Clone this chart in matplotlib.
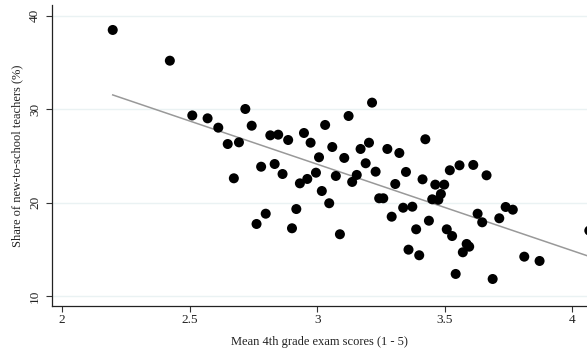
import numpy as np
import matplotlib
matplotlib.use("Agg")
import matplotlib.pyplot as plt

plt.rcParams['font.family'] = ['Liberation Serif', 'DejaVu Serif']

# Mean 4th grade exam score per school group and share of new-to-school teachers (%)
exam_score = [
    2.198, 2.422, 2.510, 2.570, 2.612, 2.718, 2.743, 2.649, 2.693, 2.816,
    2.847, 2.886, 2.780, 2.833, 2.864, 2.673, 2.948, 3.031, 2.974, 3.007,
    2.995, 2.961, 2.932, 3.018, 3.215, 3.123, 3.424, 3.059, 3.170, 3.203,
    3.275, 3.322, 3.106, 3.190, 3.229, 3.348, 3.413, 3.073, 3.155, 3.137,
    3.306, 3.243, 3.259, 3.047, 3.520, 3.558, 3.612, 3.664, 3.463, 3.498,
    3.485, 3.451, 3.475, 3.438, 3.508, 3.529, 3.586, 3.596, 3.571, 3.543,
    3.688, 3.629, 3.647, 3.714, 3.739, 3.767, 3.812, 3.872, 4.067, 3.089,
    3.292, 3.337, 3.373, 3.388, 3.358, 3.400, 2.798, 2.762, 2.918, 2.901,
]
new_teacher_share = [
    38.48, 35.19, 29.33, 29.02, 28.02, 30.02, 28.23, 26.27, 26.45, 27.20,
    27.27, 26.70, 23.84, 24.13, 23.06, 22.60, 27.45, 28.31, 26.41, 24.85,
    23.20, 22.53, 22.06, 21.24, 30.70, 29.27, 26.78, 25.95, 25.74, 26.41,
    25.74, 25.31, 24.78, 24.21, 23.31, 23.28, 22.49, 22.85, 22.96, 22.21,
    21.99, 20.46, 20.46, 19.93, 23.46, 23.99, 24.03, 22.92, 21.92, 21.92,
    20.92, 20.35, 20.30, 18.06, 17.14, 16.42, 15.57, 15.28, 14.68, 12.36,
    11.82, 18.81, 17.89, 18.32, 19.53, 19.24, 14.21, 13.75, 17.00, 16.61,
    18.49, 19.45, 19.56, 17.14, 14.96, 14.36, 18.81, 17.71, 19.31, 17.25,
]

x_ticks = [2, 2.5, 3, 3.5, 4]
x_tick_labels = ["2", "2.5", "3", "3.5", "4"]
y_ticks = [10, 20, 30, 40]
y_tick_labels = ["10", "20", "30", "40"]

x = np.array(exam_score)
y = np.array(new_teacher_share)

fig = plt.figure(figsize=(5.87, 3.52), dpi=100)
ax = fig.add_axes([0.0891, 0.1315, 0.9109, 0.8545])

# horizontal grid
for yt in y_ticks:
    ax.axhline(yt, color='#EAF2F3', lw=1.0, zorder=0)

ax.scatter(x, y, s=52, color='black', edgecolors='none', zorder=3, clip_on=False)

# linear fit across the observed range
slope, intercept = np.polyfit(x, y, 1)
xf = np.array([x.min(), x.max()])
ax.plot(xf, intercept + slope * xf, color='#999999', lw=1.1, zorder=2, clip_on=False)

ax.set_xlim(1.961, 4.058)
ax.set_ylim(8.96, 41.16)

ax.set_xticks(x_ticks)
ax.set_xticklabels(x_tick_labels)
ax.set_yticks(y_ticks)
ax.set_yticklabels(y_tick_labels, rotation=90, va='center')

ax.tick_params(axis='both', direction='out', length=4, width=0.8, color='#333333',
               labelsize=9.5, labelcolor='#222222')
ax.tick_params(axis='x', pad=2)
ax.tick_params(axis='y', pad=4)

for side in ['top', 'right']:
    ax.spines[side].set_visible(False)
for side in ['left', 'bottom']:
    ax.spines[side].set_color('#222222')
    ax.spines[side].set_linewidth(0.9)

ax.set_xlabel("Mean 4th grade exam scores (1 - 5)", fontsize=9, color='#222222', labelpad=7)
ax.set_ylabel("Share of new-to-school teachers (%)", fontsize=9, color='#222222', labelpad=4)

fig.savefig("out.png", dpi=100, facecolor='white')
